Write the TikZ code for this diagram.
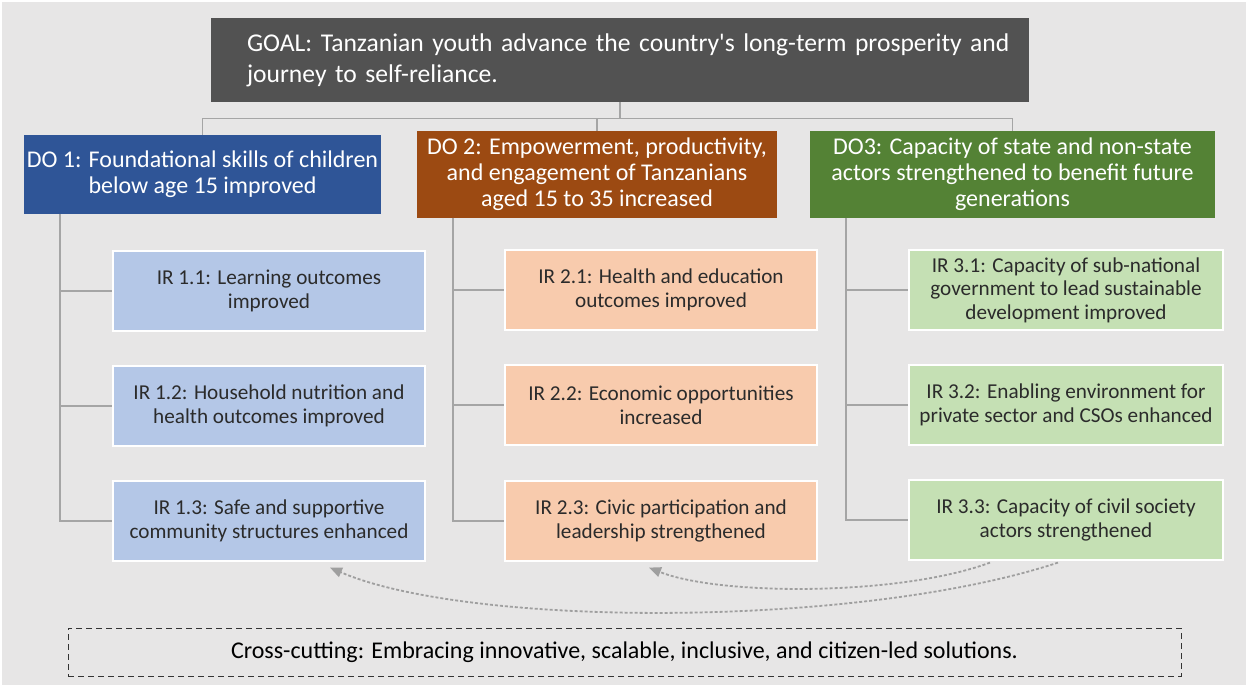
\documentclass[tikz,border=0pt]{standalone}
\usepackage{fontspec}
\setmainfont{Carlito}
\usetikzlibrary{arrows.meta}

\definecolor{bgGrey}{HTML}{E7E6E6}
\definecolor{goalGrey}{HTML}{525252}
\definecolor{doBlue}{HTML}{2F5597}
\definecolor{doBrown}{HTML}{9C4A12}
\definecolor{doGreen}{HTML}{548235}
\definecolor{irBlue}{HTML}{B4C7E7}
\definecolor{irPeach}{HTML}{F8CBAD}
\definecolor{irGreen}{HTML}{C5E0B4}
\definecolor{linkGrey}{HTML}{A5A5A5}
\definecolor{textDark}{HTML}{2B2B2B}

\tikzset{
	goalbox/.style  = {rectangle, fill=goalGrey, text=white, minimum width=409pt, minimum height=42pt,
	                   inner xsep=7pt, text width=395pt, align=left, font=\fontsize{12.8}{15.5}\selectfont},
	dobox/.style    = {rectangle, text=white, minimum height=39.5pt, inner xsep=1pt, align=center,
	                   font=\fontsize{12}{13}\selectfont},
	irbox/.style    = {rectangle, text=textDark, minimum width=156pt, minimum height=40pt, align=center,
	                   draw=white, line width=0.6pt, font=\fontsize{10.6}{11.8}\selectfont},
	crossbox/.style = {rectangle, draw=black!80, densely dashed, line width=0.5pt, minimum width=556.5pt,
	                   minimum height=24pt, font=\fontsize{12}{14}\selectfont},
	link/.style     = {draw=linkGrey, line width=0.9pt},
	crosslink/.style= {draw=gray!75, line width=0.9pt, dash pattern=on 1.5pt off 1pt,
	                   -{Triangle[length=6pt,width=5pt]}}
}

\begin{document}
\begin{tikzpicture}[x=0.5pt, y=-0.5pt]
			\fill[white]  (0,0) rectangle (1248,687);
			\fill[bgGrey] (2,2) rectangle (1246,685);

			\node at (620,60) [goalbox] (goal) {\hspace*{11pt}GOAL: Tanzanian youth advance the country\textquotesingle s long-term prosperity and\\\hspace*{11pt}journey to self-reliance.};

			\node at (202.5,174.5) [dobox,fill=doBlue,minimum width=178.5pt]  (do1) {DO 1: Foundational skills of children\\below age 15 improved};
			\node at (597,174.5)   [dobox,fill=doBrown,minimum width=180pt]   (do2) {DO 2: Empowerment, productivity,\\and engagement of Tanzanians\\aged 15 to 35 increased};
			\node at (1012.5,174.5)[dobox,fill=doGreen,minimum width=202.5pt] (do3) {DO3: Capacity of state and non-state\\actors strengthened to benefit future\\generations};

			\node at (269,291)  [irbox,fill=irBlue] (ir11) {IR 1.1: Learning outcomes\\improved};
			\node at (269,406)  [irbox,fill=irBlue] (ir12) {IR 1.2: Household nutrition and\\health outcomes improved};
			\node at (269,521)  [irbox,fill=irBlue] (ir13) {IR 1.3: Safe and supportive\\community structures enhanced};

			\node at (661,290)  [irbox,fill=irPeach] (ir21) {IR 2.1: Health and education\\outcomes improved};
			\node at (661,405)  [irbox,fill=irPeach] (ir22) {IR 2.2: Economic opportunities\\increased};
			\node at (661,521)  [irbox,fill=irPeach] (ir23) {IR 2.3: Civic participation and\\leadership strengthened};

			\node at (1066,290) [irbox,fill=irGreen,minimum width=157pt] (ir31) {IR 3.1: Capacity of sub-national\\government to lead sustainable\\development improved};
			\node at (1066,405) [irbox,fill=irGreen,minimum width=157pt] (ir32) {IR 3.2: Enabling environment for\\private sector and CSOs enhanced};
			\node at (1066,520) [irbox,fill=irGreen,minimum width=157pt] (ir33) {IR 3.3: Capacity of civil society\\actors strengthened};

			\node at (624.5,652) [crossbox] (cross) {Cross-cutting: Embracing innovative, scalable, inclusive, and citizen-led solutions.};

			\draw[link] (goal.south) -- ++(0,16) -| (do1.north);
			\draw[link] (goal.south) -- ++(0,16) -| (do2.north);
			\draw[link] (goal.south) -- ++(0,16) -| (do3.north);

			\foreach \col in {1,2,3}
				\foreach \row in {1,2,3}
					\draw[link] ([xshift=18pt]do\col.south west) |- (ir\col\row.west);

			\draw[crosslink] ([xshift=-4pt,yshift=-1pt]ir33.south) .. controls (860,628) and (470,628) .. ([xshift=30.5pt,yshift=-3pt]ir13.south);
			\draw[crosslink] ([xshift=-38pt,yshift=-1pt]ir33.south) .. controls (900,596) and (720,596) .. ([xshift=-6pt,yshift=-3pt]ir23.south);
		\end{tikzpicture}
\end{document}
